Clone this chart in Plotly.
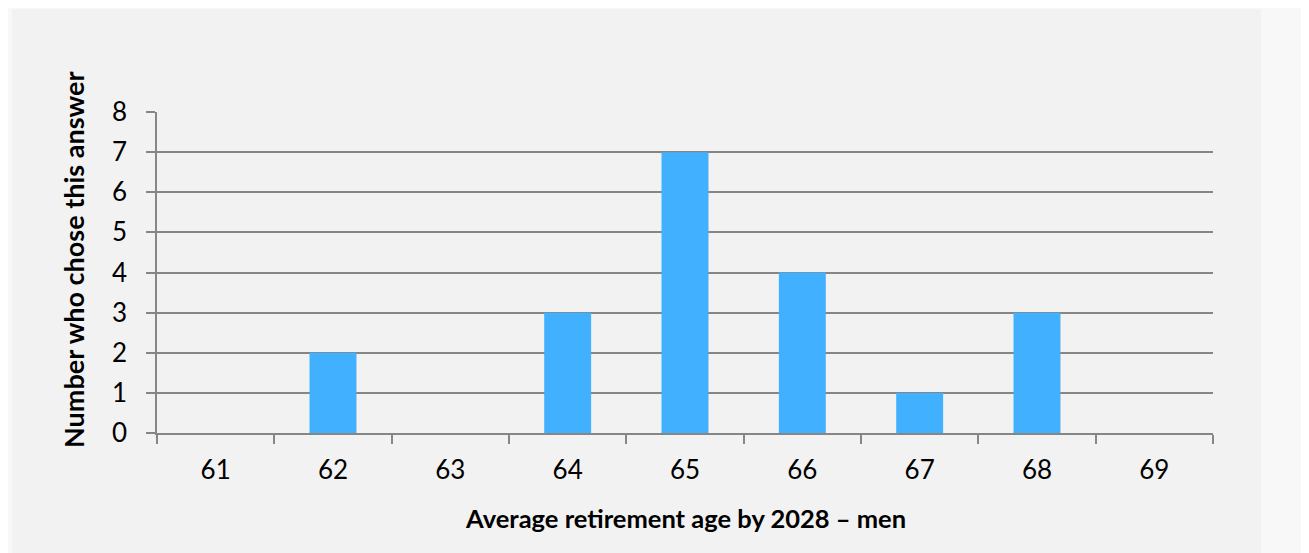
import plotly.graph_objects as go

categories = ["61", "62", "63", "64", "65", "66", "67", "68", "69"]
counts = [0, 2, 0, 3, 7, 4, 1, 3, 0]
y_ticks = [0, 1, 2, 3, 4, 5, 6, 7, 8]
x_title = "Average retirement age by 2028 – men"
y_title = "Number who chose this answer"

FONT = "Lato"
GRID = "#868686"
OFF = 8  # page body margin

fig = go.Figure(go.Bar(x=categories, y=counts, marker=dict(color="#41B0FF", line=dict(width=0)),
                       width=0.4, hoverinfo="x+y"))

W, H = 1309 - OFF, 553 - OFF
L, T = 157 - OFF, 112 - OFF
pw, ph = 1056, 321
R, B = W - L - pw, H - T - ph

def px_x(x):
    return (x - OFF - L) / pw

def px_y(y):
    return (T + ph - (y - OFF)) / ph

fig.update_layout(
    width=W, height=H,
    margin=dict(l=L, r=R, t=T, b=B, autoexpand=False),
    paper_bgcolor="#f8f8f8",
    plot_bgcolor="#f2f2f2",
    font=dict(family=FONT, size=26, color="#000000"),
    showlegend=False,
    shapes=[dict(type="rect", xref="paper", yref="paper", layer="below",
                 x0=px_x(12), x1=px_x(1261), y0=px_y(570), y1=px_y(9),
                 fillcolor="#f2f2f2", line=dict(width=0))],
    annotations=[
        dict(text="<b>" + y_title + "</b>", xref="paper", yref="paper",
             x=px_x(73), y=px_y(260), xanchor="center", yanchor="middle",
             textangle=-90, showarrow=False, font=dict(family=FONT, size=27)),
        dict(text="<b>" + x_title + "</b>", xref="paper", yref="paper",
             x=0.5, y=px_y(518), xanchor="center", yanchor="middle",
             showarrow=False, font=dict(family=FONT, size=25.5)),
    ],
)
fig.update_xaxes(type="category", tickson="boundaries", ticks="outside", ticklen=9,
                 tickwidth=1.5, tickcolor=GRID, showline=True, linecolor=GRID, linewidth=1.5,
                 showgrid=False, ticklabelstandoff=13, tickfont=dict(size=26))
fig.update_yaxes(range=[0, 8], tickvals=y_ticks, ticks="outside", ticklen=9, tickwidth=1.5,
                 tickcolor=GRID, showline=True, linecolor=GRID, linewidth=1.5,
                 showgrid=True, gridcolor=GRID, gridwidth=1.5, zeroline=False,
                 ticklabelstandoff=14, tickfont=dict(size=26))

fig.write_html("out.html")
